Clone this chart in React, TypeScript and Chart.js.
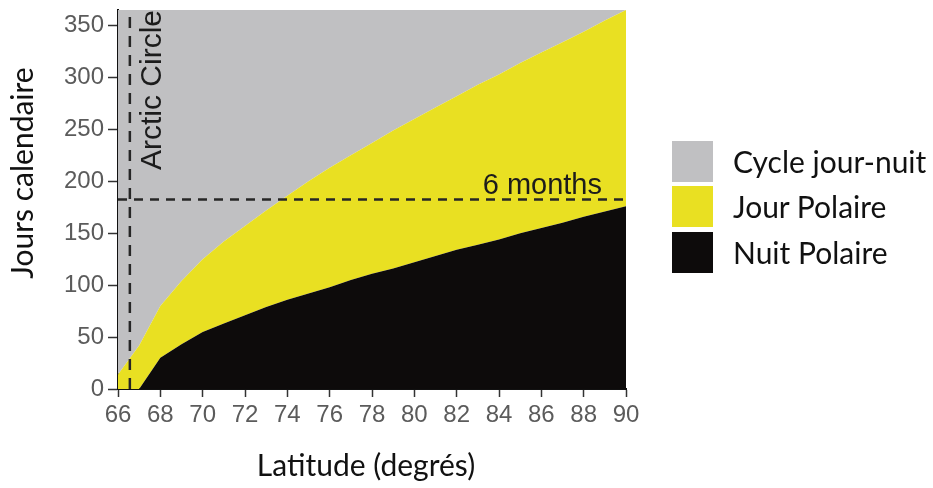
import React, { useEffect, useRef } from "react";
import { Chart, registerables } from "chart.js";

Chart.register(...registerables);

// ---- Data ----
const latitudes = [66, 67, 68, 69, 70, 71, 72, 73, 74, 75, 76, 77, 78, 79, 80, 81, 82, 83, 84, 85, 86, 87, 88, 89, 90];
const nuitPolaire = [0, 0, 30, 43, 55, 63, 71, 79, 86, 92, 98, 105, 111, 116, 122, 128, 134, 139, 144, 150, 155, 160, 166, 171, 176];
const jourPolaire = [14, 42, 50, 61, 70, 79, 86, 93, 100, 108, 115, 120, 126, 133, 138, 143, 148, 154, 159, 164, 169, 174, 178, 184, 189];
const cycleJourNuit = [351, 323, 285, 261, 240, 223, 208, 193, 179, 165, 152, 140, 128, 116, 105, 94, 83, 72, 62, 51, 41, 31, 21, 10, 0];

const yMax = 365;
const yStep = 50;
const xMin = 66;
const xMax = 90;
const xStep = 2;
const arcticCircleLat = 66.56;
const sixMonthsDays = 182.5;

const xTitle = "Latitude (degrés)";
const yTitle = "Jours calendaire";
const arcticLabel = "Arctic Circle";
const sixMonthsLabel = "6 months";

const seriesLabels = ["Nuit Polaire", "Jour Polaire", "Cycle jour-nuit"];
const seriesColors = ["#0d0b0b", "#e9e022", "#c0c0c2"];
const legendOrder = [2, 1, 0];

const TICK_FONT = '"Liberation Sans", Arial, sans-serif';
const TITLE_FONT = 'Lato, "Open Sans", sans-serif';

const annotationPlugin = {
  id: "annotations",
  afterDatasetsDraw(chart: any) {
    const { ctx, chartArea, scales } = chart;
    const x = scales.x;
    const y = scales.y;
    ctx.save();
    ctx.strokeStyle = "#262626";
    ctx.lineWidth = 2.5;
    const ax = x.getPixelForValue(arcticCircleLat);
    ctx.setLineDash([11, 8]);
    ctx.beginPath();
    ctx.moveTo(ax, chartArea.bottom);
    ctx.lineTo(ax, chartArea.top);
    ctx.stroke();
    const hy = y.getPixelForValue(sixMonthsDays);
    ctx.setLineDash([9, 7]);
    ctx.beginPath();
    ctx.moveTo(chartArea.left, hy);
    ctx.lineTo(chartArea.right, hy);
    ctx.stroke();
    ctx.setLineDash([]);

    ctx.fillStyle = "#1c1c1c";
    ctx.font = `29px ${TICK_FONT}`;
    ctx.textAlign = "right";
    ctx.textBaseline = "alphabetic";
    ctx.fillText(sixMonthsLabel, chartArea.right - 24, hy - 6);

    ctx.save();
    ctx.translate(ax + 23, chartArea.top + 0);
    ctx.rotate(-Math.PI / 2);
    ctx.font = `30px ${TICK_FONT}`;
    ctx.textAlign = "right";
    ctx.textBaseline = "middle";
    ctx.fillText(arcticLabel, 0, 0);
    ctx.restore();
    ctx.restore();
  },
  afterDraw(chart: any) {
    const { ctx, chartArea } = chart;
    ctx.save();
    ctx.fillStyle = "#111";
    ctx.font = `30px ${TITLE_FONT}`;
    ctx.textAlign = "center";
    ctx.textBaseline = "middle";
    ctx.fillText(xTitle, (chartArea.left + chartArea.right) / 2 - 6, chartArea.bottom + 77);
    ctx.translate(23, chartArea.top + (chartArea.bottom - chartArea.top) * 0.43);
    ctx.rotate(-Math.PI / 2);
    ctx.fillText(yTitle, 0, 0);
    ctx.restore();
  },
};

export default function App() {
  const canvasRef = useRef<HTMLCanvasElement | null>(null);

  useEffect(() => {
    document.body.style.margin = "0";
    const canvas = canvasRef.current;
    if (!canvas) return;
    const seriesData = [nuitPolaire, jourPolaire, cycleJourNuit];
    const datasets = seriesData.map((vals, i) => ({
      label: seriesLabels[i],
      data: latitudes.map((lat, j) => ({ x: lat, y: vals[j] })),
      backgroundColor: seriesColors[i],
      borderColor: seriesColors[i],
      borderWidth: 0,
      pointRadius: 0,
      tension: 0,
      fill: i === 0 ? "origin" : "-1",
    }));

    const chart = new Chart(canvas, {
      type: "line",
      data: { datasets },
      plugins: [annotationPlugin],
      options: {
        animation: false,
        responsive: false,
        devicePixelRatio: 1,
        layout: { padding: { top: 10, right: 307, left: 0, bottom: 0 } },
        plugins: {
          legend: { display: false },
          tooltip: { enabled: false },
        },
        scales: {
          x: {
            type: "linear",
            min: xMin,
            max: xMax,
            afterFit: (scale: any) => {
              scale.height = 99;
              scale.paddingLeft = 0;
              scale.paddingRight = 0;
            },
            border: { display: true, color: "#111", width: 2 },
            grid: {
              drawOnChartArea: false,
              drawTicks: true,
              tickLength: 8,
              tickColor: "#333",
              tickWidth: 1.5,
            },
            ticks: {
              stepSize: xStep,
              autoSkip: false,
              maxRotation: 0,
              padding: 4,
              color: "#5b5b5b",
              font: { family: TICK_FONT, size: 24 },
            },
          },
          y: {
            type: "linear",
            stacked: true,
            min: 0,
            max: yMax,
            afterFit: (scale: any) => {
              scale.width = 118;
              scale.paddingTop = 0;
              scale.paddingBottom = 0;
            },
            border: { display: true, color: "#111", width: 2 },
            grid: {
              drawOnChartArea: false,
              drawTicks: true,
              tickLength: 10,
              tickColor: "#333",
              tickWidth: 1.5,
            },
            ticks: {
              stepSize: yStep,
              includeBounds: false,
              padding: 4,
              color: "#5b5b5b",
              font: { family: TICK_FONT, size: 24 },
            },
          },
        },
      } as any,
    });
    return () => chart.destroy();
  }, []);

  const boxTops = [141, 186, 232];

  return (
    <div style={{ position: "relative", width: 933, height: 488, background: "#fff" }}>
      <canvas ref={canvasRef} width={933} height={488} style={{ position: "absolute", left: 0, top: 0 }} />
      {legendOrder.map((idx, k) => (
        <div key={idx}>
          <div
            style={{
              position: "absolute",
              left: 672,
              top: boxTops[k],
              width: 41,
              height: 41,
              background: seriesColors[idx],
            }}
          />
          <div
            style={{
              position: "absolute",
              left: 733,
              top: boxTops[k],
              height: 41,
              lineHeight: "41px",
              fontFamily: TITLE_FONT,
              fontSize: 30,
              color: "#111",
              whiteSpace: "nowrap",
            }}
          >
            {seriesLabels[idx]}
          </div>
        </div>
      ))}
    </div>
  );
}
